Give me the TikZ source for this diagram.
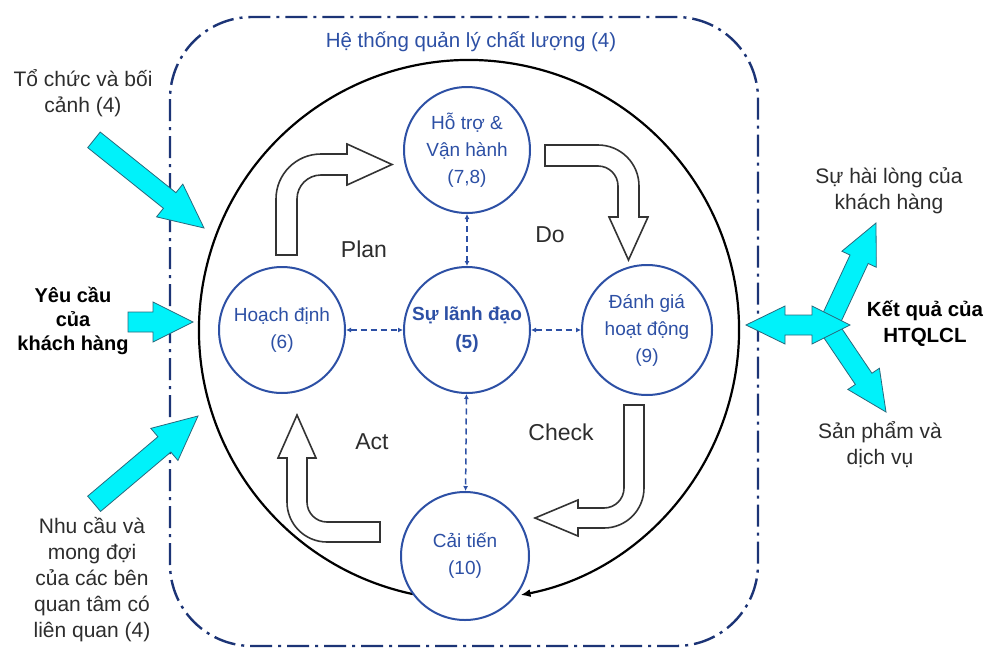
\documentclass[tikz,border=0pt]{standalone}
\usepackage{fontspec}
\setmainfont{Liberation Sans}
\usetikzlibrary{arrows.meta}
\definecolor{cblue}{RGB}{45,80,165}
\definecolor{cnavy}{RGB}{28,52,118}
\definecolor{ccyan}{RGB}{0,242,250}
\definecolor{ccyanline}{RGB}{40,105,125}
\definecolor{ctext}{RGB}{45,45,45}
\tikzset{
  bluecirc/.style={circle, draw=cblue, line width=2pt, fill=white, minimum size=126pt, inner sep=0pt, align=center, text=cblue, font=\fontsize{19}{27}\selectfont},
  hollow/.style={draw=black!80, line width=1.6pt, fill=white, line join=miter},
  cyanarr/.style={draw=ccyanline, line width=0.8pt, fill=ccyan, line join=miter},
  lbl/.style={align=center, text=ctext, font=\fontsize{21}{26}\selectfont, inner sep=0pt},
  boldlbl/.style={align=center, text=black, font=\bfseries\fontsize{20}{24}\selectfont, inner sep=0pt},
  pdca/.style={text=ctext, font=\fontsize{23}{26}\selectfont, inner sep=0pt},
  frame/.style={draw=cnavy, line width=2.4pt, dash pattern=on 22pt off 6pt on 3pt off 6pt, rounded corners=82pt},
  link/.style={draw=cblue, line width=1.5pt, dash pattern=on 6pt off 4pt, {Latex[length=5pt,width=5pt]}-{Latex[length=5pt,width=5pt]}}
}
\begin{document}
\begin{tikzpicture}[x=1pt,y=-1pt]
\useasboundingbox (0,0) rectangle (994,648);
\fill[white] (0,0) rectangle (994,648);

% outer dash-dot frame
\draw[frame] (170,17) rectangle (758,646);
\node[text=cblue, font=\fontsize{20.5}{24}\selectfont, inner sep=0pt] (title) at (471,42) {Hệ thống quản lý chất lượng (4)};

% big circle cycle with arrowhead
\draw[line width=2.2pt, -{Latex[length=10pt,width=8pt]}] (469,330) ++(258:270pt) arc[start angle=258, end angle=-79, radius=270pt];

% PDCA hollow bent arrows
\draw[hollow] (276,255) -- (276,199) arc[start angle=180, end angle=90, radius=45pt] -- (347,154) -- (347,144) -- (392,164.5) -- (347,185) -- (347,175) -- (321,175) arc[start angle=90, end angle=180, radius=24pt] -- (297,255) -- cycle;
\draw[hollow] (545,145) -- (598,145) arc[start angle=90, end angle=0, radius=41pt] -- (639,217) -- (648,217) -- (628.5,260) -- (609,217) -- (618,217) -- (618,186) arc[start angle=0, end angle=90, radius=20pt] -- (545,166) -- cycle;
\draw[hollow] (624,405) -- (644,405) -- (644,488) arc[start angle=0, end angle=-90, radius=40pt] -- (578,528) -- (578,536) -- (535,518) -- (578,500) -- (578,508) -- (604,508) arc[start angle=-90, end angle=0, radius=20pt] -- cycle;
\draw[hollow] (380,522) -- (380,542) -- (327,542) arc[start angle=-90, end angle=-180, radius=40pt] -- (287,458) -- (278,458) -- (297,415) -- (316,458) -- (307,458) -- (307,502) arc[start angle=180, end angle=270, radius=20pt] -- cycle;

\node[pdca] (plan) at (364,249) {Plan};
\node[pdca] (do) at (550,235) {Do};
\node[pdca] (check) at (561,432) {Check};
\node[pdca] (act) at (372,442) {Act};

% circles
\node[bluecirc] (ht) at (467,150) {Hỗ trợ \&\\Vận hành\\(7,8)};
\node[bluecirc] (hd) at (282,330) {Hoạch định\\(6)};
\node[bluecirc, font=\bfseries\fontsize{19}{28}\selectfont] (ld) at (467,330) {Sự lãnh đạo\\(5)};
\node[bluecirc, minimum size=130pt] (dg) at (647,330) {Đánh giá\\hoạt động\\(9)};
\node[bluecirc, minimum size=128pt] (ct) at (465,556) {Cải tiến\\(10)};

% dashed links
\draw[link] (hd) -- (ld);
\draw[link] (ld) -- (dg);
\draw[link] (ld) -- (ht);
\draw[link] (ld) -- (ct);

% left cyan arrows
\begin{scope}[shift={(204,228)}, rotate=-38.7]
\draw[cyanarr] (0pt,0pt) -- (-44pt,21pt) -- (-44pt,10pt) -- (-141pt,10pt) -- (-141pt,-10pt) -- (-44pt,-10pt) -- (-44pt,-21pt) -- cycle;
\end{scope}
\begin{scope}[shift={(193,322)}]
\draw[cyanarr] (0pt,0pt) -- (-40pt,20pt) -- (-40pt,10pt) -- (-65pt,10pt) -- (-65pt,-10pt) -- (-40pt,-10pt) -- (-40pt,-20pt) -- cycle;
\end{scope}
\begin{scope}[shift={(198,416)}, rotate=40.2]
\draw[cyanarr] (0pt,0pt) -- (-44pt,21pt) -- (-44pt,10pt) -- (-136pt,10pt) -- (-136pt,-10pt) -- (-44pt,-10pt) -- (-44pt,-21pt) -- cycle;
\end{scope}

% right cyan arrows
\begin{scope}[shift={(876,223)}, rotate=65]
\draw[cyanarr] (0pt,0pt) -- (-40pt,19pt) -- (-40pt,10pt) -- (-108pt,10pt) -- (-108pt,-10pt) -- (-40pt,-10pt) -- (-40pt,-19pt) -- cycle;
\end{scope}
\begin{scope}[shift={(886,412)}, rotate=-56]
\draw[cyanarr] (0pt,0pt) -- (-40pt,19pt) -- (-40pt,10pt) -- (-100pt,10pt) -- (-100pt,-10pt) -- (-40pt,-10pt) -- (-40pt,-19pt) -- cycle;
\end{scope}
\draw[cyanarr] (746,325) -- (785,306) -- (785,315) -- (812,315) -- (812,306) -- (850,325) -- (812,344) -- (812,335) -- (785,335) -- (785,344) -- cycle;

% side labels
\node[lbl] (org) at (83,93) {Tổ chức và bối\\cảnh (4)};
\node[boldlbl] (yc) at (73,321) {Yêu cầu\\của\\khách hàng};
\node[lbl] (nc) at (92,580) {Nhu cầu và\\mong đợi\\của các bên\\quan tâm có\\liên quan (4)};
\node[lbl] (hl) at (889,191) {Sự hài lòng của\\khách hàng};
\node[boldlbl, font=\bfseries\fontsize{20.5}{26}\selectfont] (kq) at (925,324) {Kết quả của\\HTQLCL};
\node[lbl] (sp) at (880,445) {Sản phẩm và\\dịch vụ};
\end{tikzpicture}
\end{document}
